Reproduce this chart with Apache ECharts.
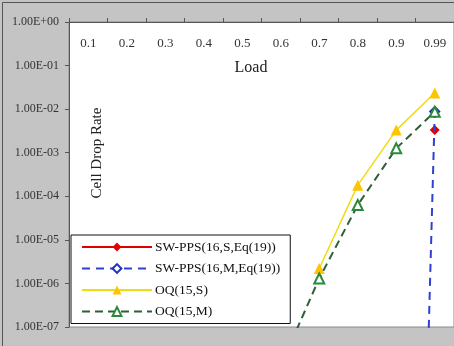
<!DOCTYPE html>
<html>
<head>
<meta charset="utf-8">
<script src="https://cdn.jsdelivr.net/npm/echarts@6/dist/echarts.min.js"></script>
<style>html,body{margin:0;padding:0;background:#c4c4c4;}#c{width:454px;height:346px;}</style>
</head>
<body>
<div id="c"></div>
<script>
var categories = ['0.1','0.2','0.3','0.4','0.5','0.6','0.7','0.8','0.9','0.99'];
var swppsS = [null,null,null,null,null,null,null,null,null,3.3e-3];
var swppsM = [null,null,null,null,null,null,null,null,1e-34,8.8e-3];
var oqS    = [null,null,null,null,null,null,2.2e-6,1.8e-4,3.3e-3,2.35e-2];
var oqM    = [null,null,null,null,null,1.3e-8,1.3e-6,6.3e-5,1.26e-3,8.7e-3];
var seriesNames = ['SW-PPS(16,S,Eq(19))','SW-PPS(16,M,Eq(19))','OQ(15,S)','OQ(15,M)'];
var yTitle = 'Cell Drop Rate';
var xTitle = 'Load';

var FONT = '"Liberation Serif", "DejaVu Serif", serif';
function fmt(v){
  var e = Math.round(Math.log10(v));
  var a = Math.abs(e);
  return '1.00E' + (e < 0 ? '-' : '+') + (a < 10 ? '0' + a : a);
}
var chart = echarts.init(document.getElementById('c'));
chart.setOption({
  backgroundColor: '#c4c4c4',
  animation: false,
  textStyle: {fontFamily: FONT},
  grid: {left: 69, top: 22, right: 0, bottom: 19, show: true, backgroundColor: '#ffffff', borderColor: '#8a8a8a', borderWidth: 1, containLabel: false},
  legend: {
    orient: 'vertical', left: 71, top: 235,
    padding: [5, 10, 5, 10],
    itemWidth: 70, itemHeight: 11, itemGap: 7.5,
    backgroundColor: '#ffffff', borderColor: '#111', borderWidth: 1,
    textStyle: {fontFamily: FONT, fontSize: 13.5, color: '#111', padding: [0,0,0,-2]},
    data: seriesNames
  },
  xAxis: {
    type: 'category', position: 'top', data: categories,
    axisLine: {lineStyle: {color: '#555', width: 1}},
    axisTick: {show: true, inside: false, length: 4, lineStyle: {color: '#555'}},
    axisLabel: {inside: true, margin: 15, fontSize: 13, color: '#333', fontFamily: FONT},
    splitLine: {show: false}
  },
  yAxis: {
    type: 'log', logBase: 10, min: 1e-7, max: 1, interval: 1,
    axisLine: {show: true, lineStyle: {color: '#555', width: 1}},
    axisTick: {show: true, inside: false, length: 4, lineStyle: {color: '#555'}},
    axisLabel: {formatter: fmt, fontSize: 12, color: '#333', margin: 10, fontFamily: FONT},
    splitLine: {show: false},
    minorTick: {show: false}
  },
  graphic: [
    {type: 'rect', left: 0, top: 0, shape: {x: 0.5, y: 0.5, width: 460, height: 345}, style: {fill: 'none', stroke: '#555', lineWidth: 1}, silent: true, z: 100},
    {type: 'text', x: 251, y: 68, style: {text: xTitle, font: '16px ' + FONT, fill: '#222', align: 'center', verticalAlign: 'middle'}},
    {type: 'text', x: 97, y: 153, rotation: Math.PI / 2, style: {text: yTitle, font: '15px ' + FONT, fill: '#222', align: 'center', verticalAlign: 'middle'}}
  ],
  series: [
    {name: seriesNames[0], type: 'line', data: swppsS, connectNulls: false, clip: true,
     symbol: 'diamond', symbolSize: 10, showAllSymbol: true,
     itemStyle: {color: '#e00000'}, lineStyle: {color: '#e00000', width: 1.5, type: 'solid'}, z: 2},
    {name: seriesNames[1], type: 'line', data: swppsM, clip: true,
     symbol: 'emptyDiamond', symbolSize: 9, showAllSymbol: true,
     itemStyle: {color: '#2030c0', borderWidth: 2}, lineStyle: {color: '#3040d0', width: 2, type: [8, 6]}, z: 3},
    {name: seriesNames[2], type: 'line', data: oqS, clip: true,
     symbol: 'triangle', symbolSize: 11, showAllSymbol: true,
     itemStyle: {color: '#ffc400'}, lineStyle: {color: '#eedd10', width: 1.5, type: 'solid'}, z: 4},
    {name: seriesNames[3], type: 'line', data: oqM, clip: true,
     symbol: 'emptyTriangle', symbolSize: 10, showAllSymbol: true,
     itemStyle: {color: '#2a8a3a', borderWidth: 1.5}, lineStyle: {color: '#2f5f35', width: 2, type: [8, 5]}, z: 5}
  ]
});
</script>
</body>
</html>
